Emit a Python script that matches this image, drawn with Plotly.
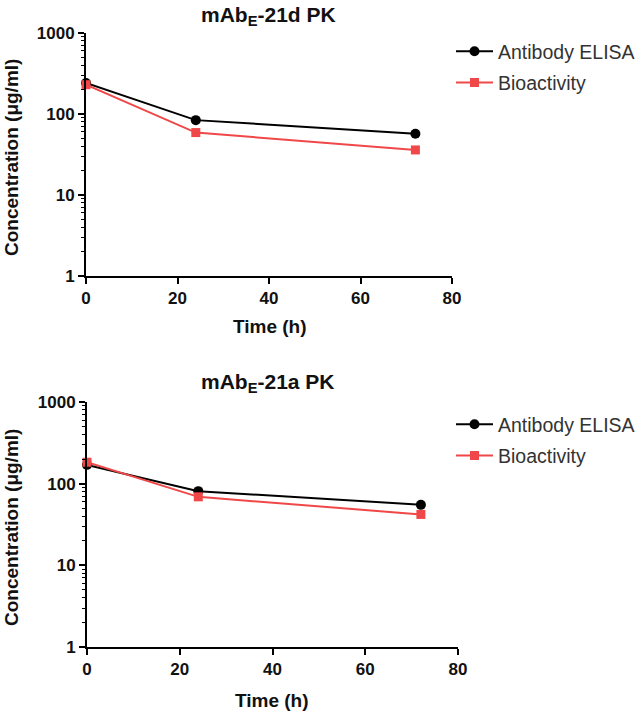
import plotly.graph_objects as go

time_h = [0, 24, 72]
elisa_21d = [241, 84, 57]
bio_21d = [230, 59, 36]
elisa_21a = [170, 81, 55]
bio_21a = [183, 69, 42]

titles = ["mAb<sub>E</sub>-21d PK", "mAb<sub>E</sub>-21a PK"]
series_names = ["Antibody ELISA", "Bioactivity"]
x_title = "Time (h)"
y_title = "Concentration (\u03bcg/ml)"
x_ticks = [0, 20, 40, 60, 80]
y_ticks = [1, 10, 100, 1000]
y_minor = [m * d for d in y_ticks[:-1] for m in range(2, 10)]

BLACK = "#000000"
RED = "#F04848"
FONT = "Liberation Sans, Arial, sans-serif"
TXT = "#111111"

fig = go.Figure()

panels = [
    (elisa_21d, bio_21d, "x", "y", "legend"),
    (elisa_21a, bio_21a, "x2", "y2", "legend2"),
]
for i, (elisa, bio, xa, ya, lg) in enumerate(panels):
    fig.add_trace(go.Scatter(
        x=time_h, y=elisa, name=series_names[0], mode="lines+markers",
        line=dict(color=BLACK, width=2), marker=dict(symbol="circle", size=10, color=BLACK),
        xaxis=xa, yaxis=ya, legend=lg, legendgroup=f"e{i}", cliponaxis=False))
    fig.add_trace(go.Scatter(
        x=time_h, y=bio, name=series_names[1], mode="lines+markers",
        line=dict(color=RED, width=2), marker=dict(symbol="square", size=9, color=RED),
        xaxis=xa, yaxis=ya, legend=lg, legendgroup=f"b{i}", cliponaxis=False))

W, H = 640, 711

def px(x):
    return x / W

def py(y):
    return 1 - y / H

top_dom_x = [px(86), px(452)]
top_dom_y = [py(276), py(33)]
bot_dom_x = [px(87), px(458)]
bot_dom_y = [py(647), py(402)]

tickfont = dict(family=FONT, size=17, color=TXT, weight="bold")

def xaxis(dom, anchor):
    return dict(domain=dom, anchor=anchor, range=[0, 80], tickvals=x_ticks,
                showline=True, linecolor=BLACK, linewidth=2, ticks="outside",
                ticklen=6, tickwidth=2, tickcolor=BLACK, showgrid=False, zeroline=False,
                tickfont=tickfont, automargin=False)

def yaxis(dom, anchor):
    return dict(domain=dom, anchor=anchor, type="log", range=[0, 3], tickvals=y_ticks,
                ticktext=[str(v) for v in y_ticks],
                showline=True, linecolor=BLACK, linewidth=2, ticks="outside",
                ticklen=6, tickwidth=2, tickcolor=BLACK, showgrid=False, zeroline=False,
                minor=dict(tickvals=y_minor, ticks="outside", ticklen=3, tickwidth=1,
                           tickcolor=BLACK, showgrid=False),
                tickfont=tickfont, automargin=False)

legend_style = dict(font=dict(family=FONT, size=19.5, color="#333333"),
                    bgcolor="rgba(0,0,0,0)", borderwidth=0, itemwidth=37,
                    xanchor="left", yanchor="top", tracegroupgap=3)

def ann(text, x, y, size, bold=True, angle=0):
    return dict(text=text, x=px(x), y=py(y), xref="paper", yref="paper",
                showarrow=False, xanchor="center", yanchor="middle", textangle=angle,
                font=dict(family=FONT, size=size, color=TXT,
                          weight="bold" if bold else "normal"))

fig.update_layout(
    width=W, height=H, margin=dict(l=0, r=0, t=0, b=0),
    paper_bgcolor="white", plot_bgcolor="white",
    xaxis=xaxis(top_dom_x, "y"), yaxis=yaxis(top_dom_y, "x"),
    xaxis2=xaxis(bot_dom_x, "y2"), yaxis2=yaxis(bot_dom_y, "x2"),
    legend=dict(x=px(451), y=py(32), **legend_style),
    legend2=dict(x=px(451), y=py(405), **legend_style),
    annotations=[
        ann(titles[0], 268, 16, 21),
        ann(titles[1], 268, 383, 21),
        ann(x_title, 270, 327, 19),
        ann(x_title, 272, 700, 19),
        ann(y_title, 11, 158, 19, angle=-90),
        ann(y_title, 11, 528, 19, angle=-90),
    ],
)

fig.write_html("out.html", config={"displayModeBar": False},
               post_script="document.body.style.margin='0';")
